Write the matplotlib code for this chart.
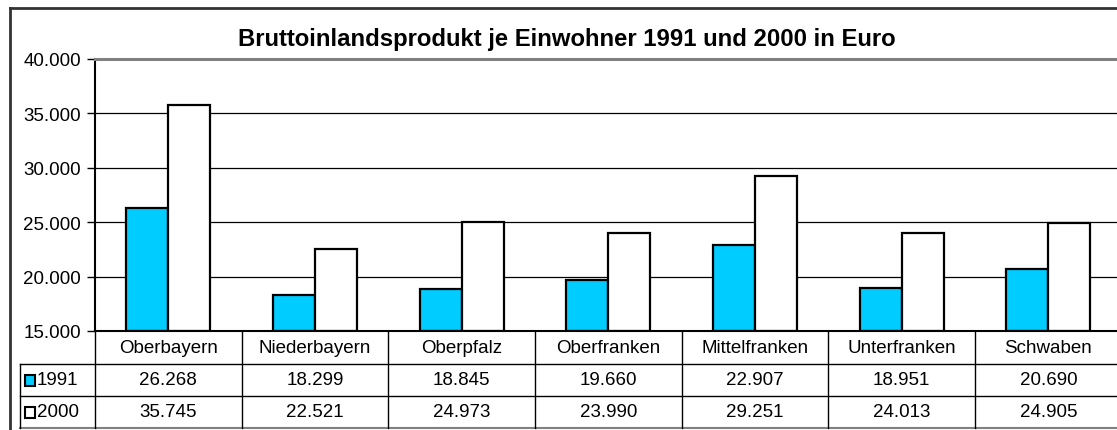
import matplotlib
matplotlib.use("Agg")
import matplotlib.pyplot as plt
from matplotlib.lines import Line2D
from matplotlib.patches import Rectangle
from matplotlib.transforms import blended_transform_factory
from matplotlib.ticker import FuncFormatter, MultipleLocator

plt.rcParams['font.family'] = ['Liberation Sans', 'DejaVu Sans']

categories = ["Oberbayern", "Niederbayern", "Oberpfalz", "Oberfranken",
              "Mittelfranken", "Unterfranken", "Schwaben"]
series_names = ["1991", "2000"]
values_1991 = [26268, 18299, 18845, 19660, 22907, 18951, 20690]
values_2000 = [35745, 22521, 24973, 23990, 29251, 24013, 24905]
title = "Bruttoinlandsprodukt je Einwohner 1991 und 2000 in Euro"
y_min, y_max, y_step = 15000, 40000, 5000

colors = ["#00CCFF", "#FFFFFF"]

W, H = 1117, 431
fig = plt.figure(figsize=(W / 100, H / 100), dpi=100)

def fx(px):
    return px / W

def fy(py):
    return (H - py) / H

ax_left, ax_right = 95, 1121.7
ax_top, ax_bot = 60, 332
ax = fig.add_axes([fx(ax_left), fy(ax_bot), fx(ax_right - ax_left), (ax_bot - ax_top) / H])

def de(v):
    return f"{int(v):,}".replace(",", ".")

n = len(categories)
x = list(range(n))
bw = 42 / 146.67
series = [values_1991, values_2000]
for i, vals in enumerate(series):
    offs = (i - 0.5) * bw
    ax.bar([xi + offs for xi in x], [v - y_min for v in vals], bottom=y_min,
           width=bw, color=colors[i], edgecolor="black", linewidth=1.6, zorder=3)

ax.set_xlim(-0.5, n - 0.5)
ax.set_ylim(y_min, y_max)
ax.yaxis.set_major_locator(MultipleLocator(y_step))
ax.yaxis.set_major_formatter(FuncFormatter(lambda v, p: de(v)))
ax.set_xticks([])
ax.tick_params(axis="y", length=6, width=1, pad=4, labelsize=13.5, colors="black")
ax.yaxis.grid(True, color="black", linewidth=0.9, zorder=0)
ax.spines["right"].set_visible(False)
ax.spines["top"].set_color("#808080")
ax.spines["top"].set_linewidth(2.2)
ax.spines["left"].set_linewidth(1.5)
ax.spines["bottom"].set_linewidth(1.5)
ax.spines["bottom"].set_zorder(4)

# Title
fig.text(fx(567), fy(46), title, ha="center", va="baseline",
         fontsize=17.2, fontweight="bold")

# Outer frame
fig.add_artist(Line2D([fx(10), fx(10)], [fy(9), fy(H + 5)], color="#333333",
                      linewidth=2, transform=fig.transFigure))
fig.add_artist(Line2D([fx(10), fx(W + 5)], [fy(9), fy(9)], color="#333333",
                      linewidth=2, transform=fig.transFigure))

# Data table
tr = blended_transform_factory(ax.transData, fig.transFigure)
row_y = [332, 365, 397, 429]
tbl_left_px = 20
for ry, col in [(365, "black"), (397, "black"), (429, "#808080")]:
    fig.add_artist(Line2D([fx(tbl_left_px), fx(W + 5)], [fy(ry), fy(ry)],
                          color=col, linewidth=1.5 if col != "black" else 1,
                          transform=fig.transFigure))
for b in range(n + 1):
    fig.add_artist(Line2D([b - 0.5, b - 0.5], [fy(332), fy(429)], color="black",
                          linewidth=1, transform=tr, clip_on=False))
fig.add_artist(Line2D([fx(tbl_left_px), fx(tbl_left_px)], [fy(365), fy(429)],
                      color="black", linewidth=1, transform=fig.transFigure))

fs = 13.5
for i, c in enumerate(categories):
    fig.text(i, fy((332 + 365) / 2), c, ha="center", va="center",
             fontsize=fs, transform=tr)
for r, (name, vals) in enumerate(zip(series_names, series)):
    top, bot = row_y[r + 1], row_y[r + 2]
    cy = (top + bot) / 2
    for i, v in enumerate(vals):
        fig.text(i, fy(cy), de(v), ha="center", va="center", fontsize=fs,
                 transform=tr)
    fig.add_artist(Rectangle((fx(25), fy(cy + 6)), fx(10), 11 / H,
                             facecolor=colors[r], edgecolor="black",
                             linewidth=1.5, transform=fig.transFigure))
    fig.text(fx(37), fy(cy), name, ha="left", va="center", fontsize=fs)

fig.savefig("out.png", dpi=100)
